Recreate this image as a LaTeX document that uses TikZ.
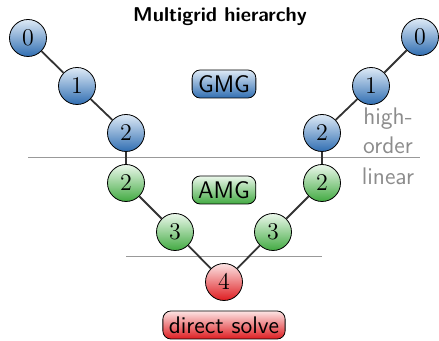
\documentclass[tikz,border=0pt]{standalone}
\usepackage{tikz}
\usetikzlibrary{positioning}

\definecolor{gmgtop}{RGB}{222,234,246}
\definecolor{gmgbot}{RGB}{48,110,178}
\definecolor{amgtop}{RGB}{236,248,236}
\definecolor{amgbot}{RGB}{66,170,66}
\definecolor{dirtop}{RGB}{252,228,228}
\definecolor{dirbot}{RGB}{222,28,32}

\tikzset{
  level/.style={circle,draw=black,thin,minimum size=18.5pt,inner sep=0pt,font=\large},
  gmglevel/.style={level,top color=gmgtop,bottom color=gmgbot},
  amglevel/.style={level,top color=amgtop,bottom color=amgbot},
  dirlevel/.style={level,top color=dirtop,bottom color=dirbot},
  tag/.style={draw=black,thin,rounded corners=4pt,inner xsep=3pt,inner ysep=1pt,font=\large\sffamily,minimum height=14pt},
  coarsen/.style={draw=black!80,line width=0.9pt},
  split/.style={draw=black!40,line width=0.5pt},
  side/.style={text=black!45,font=\large\sffamily}
}

\begin{document}
\begin{tikzpicture}[x=0.5pt,y=-0.5pt]
\useasboundingbox (0,0) rectangle (439,341);
% separators
\draw[split] (28,158) -- (420,158);
\draw[split] (126,257) -- (322,257);
% title and labels
\node[font=\sffamily\bfseries] (title) at (220,17) {Multigrid hierarchy};
\node[tag,top color=gmgtop,bottom color=gmgbot] (gmg) at (224,84) {GMG};
\node[tag,top color=amgtop,bottom color=amgbot] (amg) at (224,190) {AMG};
\node[tag,top color=dirtop,bottom color=dirbot] (direct) at (224,325) {direct solve};
\node[side] (high) at (388,119) {high-};
\node[side] (order) at (388,145) {order};
\node[side] (linear) at (388,176) {linear};
% levels, left side
\node[gmglevel] (l0) at (28,38) {$0$};
\node[gmglevel] (l1) at (77,86) {$1$};
\node[gmglevel] (l2) at (126,133) {$2$};
\node[amglevel] (l2a) at (126,183) {$2$};
\node[amglevel] (l3) at (175,232) {$3$};
% coarsest
\node[dirlevel] (c4) at (224,282) {$4$};
% levels, right side
\node[amglevel] (r3) at (273,232) {$3$};
\node[amglevel] (r2a) at (322,183) {$2$};
\node[gmglevel] (r2) at (322,133) {$2$};
\node[gmglevel] (r1) at (371,86) {$1$};
\node[gmglevel] (r0) at (420,37) {$0$};
% connectors
\draw[coarsen] (l0) -- (l1) -- (l2) -- (l2a) -- (l3) -- (c4) -- (r3) -- (r2a) -- (r2) -- (r1) -- (r0);
\end{tikzpicture}
\end{document}
